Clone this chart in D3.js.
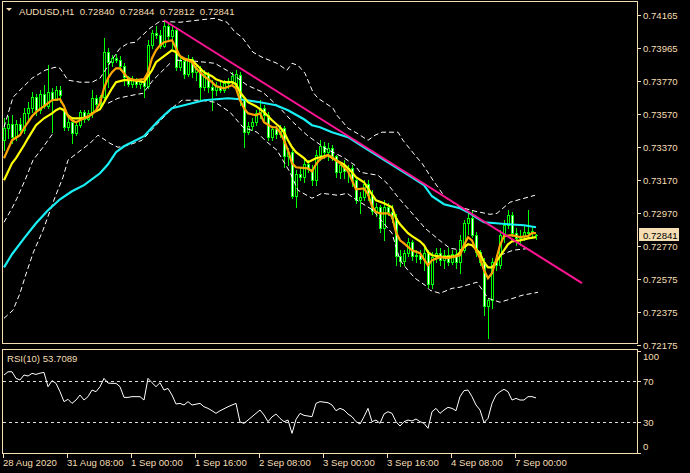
<!DOCTYPE html>
<html><head><meta charset="utf-8">
<script src="https://cdnjs.cloudflare.com/ajax/libs/d3/7.8.5/d3.min.js"></script>
<style>
html,body{margin:0;padding:0;background:#000;}
svg{display:block;}
text{font-family:"Liberation Sans",Arial,sans-serif;font-size:9.6px;white-space:pre;}
</style></head><body>
<svg id="c" width="690" height="473"></svg>
<script>
const symbolLabel = "AUDUSD,H1";
const lastQuote = [0.72840, 0.72844, 0.72812, 0.72841];
const rsiLabel = "RSI(10) 53.7089";

const open = [0.73410,0.73483,0.73507,0.73429,0.73507,0.73471,0.73573,0.73604,0.73670,0.73592,0.73688,0.73616,0.73700,0.73652,0.73712,0.73592,0.73489,0.73519,0.73453,0.73501,0.73580,0.73537,0.73573,0.73664,0.73628,0.73670,0.73942,0.73882,0.73906,0.73894,0.73857,0.73791,0.73749,0.73779,0.73749,0.73761,0.73737,0.73984,0.74057,0.74045,0.73978,0.74099,0.74039,0.74075,0.73851,0.73888,0.73809,0.73900,0.73821,0.73845,0.73731,0.73809,0.73731,0.73712,0.73737,0.73712,0.73755,0.73767,0.73737,0.73803,0.73652,0.73459,0.73495,0.73519,0.73573,0.73604,0.73561,0.73429,0.73477,0.73447,0.73483,0.73314,0.73338,0.73072,0.73205,0.73187,0.73265,0.73235,0.73169,0.73320,0.73374,0.73338,0.73362,0.73314,0.73217,0.73259,0.73223,0.73241,0.73169,0.73048,0.73066,0.73145,0.73078,0.72982,0.73006,0.72879,0.73006,0.72976,0.72939,0.72710,0.72680,0.72728,0.72794,0.72710,0.72716,0.72692,0.72728,0.72541,0.72704,0.72728,0.72686,0.72716,0.72674,0.72722,0.72674,0.72746,0.72909,0.72939,0.72837,0.72734,0.72674,0.72408,0.72444,0.72674,0.72655,0.72837,0.72897,0.72957,0.72849,0.72818,0.72831,0.72855,0.72849,0.72840];
const high = [0.73543,0.73555,0.73561,0.73531,0.73543,0.73604,0.73640,0.73700,0.73688,0.73712,0.73743,0.73863,0.73724,0.73737,0.73737,0.73622,0.73543,0.73549,0.73519,0.73592,0.73592,0.73592,0.73712,0.73682,0.73682,0.74026,0.73966,0.73924,0.73930,0.73918,0.73875,0.73797,0.73797,0.73785,0.73773,0.73773,0.74014,0.74075,0.74099,0.74075,0.74135,0.74123,0.74105,0.74087,0.73906,0.73906,0.73924,0.73912,0.73869,0.73857,0.73833,0.73821,0.73773,0.73761,0.73761,0.73773,0.73785,0.73821,0.73833,0.73821,0.73664,0.73519,0.73543,0.73592,0.73652,0.73622,0.73580,0.73495,0.73495,0.73501,0.73495,0.73362,0.73350,0.73229,0.73241,0.73290,0.73290,0.73259,0.73350,0.73410,0.73398,0.73392,0.73380,0.73320,0.73278,0.73290,0.73259,0.73259,0.73181,0.73096,0.73169,0.73169,0.73108,0.73030,0.73018,0.73048,0.73030,0.73018,0.72963,0.72746,0.72746,0.72818,0.72806,0.72746,0.72746,0.72758,0.72746,0.72734,0.72758,0.72758,0.72746,0.72758,0.72746,0.72746,0.72837,0.72927,0.72976,0.72988,0.72855,0.72746,0.72698,0.72456,0.72698,0.72716,0.72867,0.72927,0.72988,0.72976,0.72879,0.72867,0.72897,0.72988,0.72891,0.72844];
const low = [0.73350,0.73422,0.73392,0.73410,0.73447,0.73453,0.73531,0.73580,0.73561,0.73573,0.73604,0.73604,0.73459,0.73652,0.73640,0.73471,0.73471,0.73392,0.73441,0.73489,0.73519,0.73531,0.73549,0.73604,0.73616,0.73658,0.73731,0.73857,0.73882,0.73833,0.73743,0.73737,0.73731,0.73731,0.73724,0.73670,0.73724,0.73966,0.74026,0.73966,0.73972,0.74014,0.73966,0.73833,0.73833,0.73785,0.73797,0.73791,0.73773,0.73652,0.73712,0.73700,0.73592,0.73682,0.73700,0.73700,0.73724,0.73737,0.73724,0.73622,0.73368,0.73447,0.73471,0.73501,0.73543,0.73531,0.73410,0.73410,0.73422,0.73429,0.73247,0.73259,0.73060,0.73006,0.73169,0.73157,0.73217,0.73139,0.73139,0.73290,0.73302,0.73290,0.73290,0.73187,0.73181,0.73181,0.73157,0.73133,0.73030,0.72969,0.73048,0.73048,0.72963,0.72951,0.72855,0.72806,0.72957,0.72915,0.72655,0.72649,0.72655,0.72710,0.72686,0.72674,0.72667,0.72625,0.72523,0.72516,0.72674,0.72655,0.72637,0.72655,0.72661,0.72637,0.72607,0.72734,0.72843,0.72825,0.72710,0.72655,0.72353,0.72214,0.72396,0.72625,0.72637,0.72794,0.72879,0.72831,0.72776,0.72776,0.72806,0.72825,0.72818,0.72812];
const close = [0.73483,0.73507,0.73429,0.73507,0.73471,0.73573,0.73604,0.73670,0.73592,0.73688,0.73616,0.73700,0.73652,0.73712,0.73682,0.73489,0.73519,0.73453,0.73501,0.73580,0.73537,0.73573,0.73664,0.73628,0.73670,0.73942,0.73882,0.73906,0.73894,0.73857,0.73791,0.73749,0.73779,0.73749,0.73761,0.73737,0.73984,0.74057,0.74045,0.73978,0.74099,0.74039,0.74075,0.73851,0.73888,0.73809,0.73900,0.73821,0.73845,0.73731,0.73809,0.73731,0.73712,0.73737,0.73712,0.73755,0.73767,0.73797,0.73809,0.73652,0.73459,0.73495,0.73519,0.73573,0.73604,0.73561,0.73429,0.73477,0.73447,0.73483,0.73314,0.73338,0.73072,0.73205,0.73187,0.73265,0.73235,0.73169,0.73320,0.73374,0.73338,0.73362,0.73314,0.73217,0.73259,0.73223,0.73241,0.73169,0.73048,0.73066,0.73145,0.73078,0.72982,0.73006,0.72879,0.73006,0.72976,0.72939,0.72710,0.72680,0.72728,0.72794,0.72710,0.72716,0.72692,0.72728,0.72541,0.72704,0.72728,0.72686,0.72716,0.72674,0.72722,0.72674,0.72806,0.72909,0.72939,0.72837,0.72734,0.72674,0.72408,0.72444,0.72674,0.72655,0.72837,0.72897,0.72957,0.72849,0.72818,0.72831,0.72855,0.72849,0.72861,0.72841];

// moving averages: [bar index, price]
const maFast = [[0,0.73302],[2,0.73410],[4,0.73441],[5,0.73483],[7,0.73555],[8,0.73580],[10,0.73616],[12,0.73652],[14,0.73658],[15,0.73616],[16,0.73555],[17,0.73531],[18,0.73519],[20,0.73543],[22,0.73567],[23,0.73592],[24,0.73634],[25,0.73724],[26,0.73785],[27,0.73821],[28,0.73845],[29,0.73845],[30,0.73815],[31,0.73785],[33,0.73773],[35,0.73779],[36,0.73821],[37,0.73906],[38,0.73954],[39,0.73984],[40,0.74002],[42,0.74014],[43,0.73966],[44,0.73918],[45,0.73906],[47,0.73882],[48,0.73845],[50,0.73797],[52,0.73761],[53,0.73737],[55,0.73724],[57,0.73743],[58,0.73724],[59,0.73652],[60,0.73604],[61,0.73573],[63,0.73561],[64,0.73573],[65,0.73519],[67,0.73489],[68,0.73489],[69,0.73459],[70,0.73410],[71,0.73350],[72,0.73271],[73,0.73247],[76,0.73241],[77,0.73223],[78,0.73265],[79,0.73296],[80,0.73308],[81,0.73320],[82,0.73308],[84,0.73271],[86,0.73223],[87,0.73169],[88,0.73114],[90,0.73120],[91,0.73084],[92,0.73012],[93,0.72976],[94,0.72969],[96,0.72969],[97,0.72951],[98,0.72855],[99,0.72806],[100,0.72788],[102,0.72746],[104,0.72728],[106,0.72655],[107,0.72686],[109,0.72704],[111,0.72698],[112,0.72704],[114,0.72716],[115,0.72776],[116,0.72825],[117,0.72806],[118,0.72746],[119,0.72698],[120,0.72625],[121,0.72577],[122,0.72607],[123,0.72686],[124,0.72776],[125,0.72831],[127,0.72837],[129,0.72825],[131,0.72831],[132,0.72849],[133,0.72849]];
const maMid = [[0,0.73169],[2,0.73271],[3,0.73302],[5,0.73380],[6,0.73422],[8,0.73501],[10,0.73543],[12,0.73573],[13,0.73592],[14,0.73604],[15,0.73592],[16,0.73561],[17,0.73543],[19,0.73543],[21,0.73549],[22,0.73573],[24,0.73598],[25,0.73640],[26,0.73682],[27,0.73724],[28,0.73761],[30,0.73773],[32,0.73773],[34,0.73767],[35,0.73761],[36,0.73797],[37,0.73833],[38,0.73882],[40,0.73918],[41,0.73936],[42,0.73954],[43,0.73942],[44,0.73918],[45,0.73900],[47,0.73894],[48,0.73869],[49,0.73845],[50,0.73821],[52,0.73797],[53,0.73779],[55,0.73761],[57,0.73761],[58,0.73749],[59,0.73700],[60,0.73670],[61,0.73640],[63,0.73616],[65,0.73580],[67,0.73531],[69,0.73489],[70,0.73459],[71,0.73410],[72,0.73368],[73,0.73338],[75,0.73302],[76,0.73278],[77,0.73290],[78,0.73302],[79,0.73308],[81,0.73320],[83,0.73290],[85,0.73265],[87,0.73217],[88,0.73187],[90,0.73157],[91,0.73120],[93,0.73048],[95,0.73030],[97,0.73006],[98,0.72939],[99,0.72903],[101,0.72849],[102,0.72831],[104,0.72800],[105,0.72776],[106,0.72734],[107,0.72716],[110,0.72704],[113,0.72710],[114,0.72734],[115,0.72764],[116,0.72782],[117,0.72776],[118,0.72752],[119,0.72728],[120,0.72674],[121,0.72643],[122,0.72643],[123,0.72674],[124,0.72710],[125,0.72746],[126,0.72782],[127,0.72800],[129,0.72806],[131,0.72818],[133,0.72825]];
const maSlow = [[0,0.72643],[2,0.72722],[5,0.72818],[8,0.72909],[11,0.72988],[14,0.73054],[17,0.73102],[20,0.73139],[24,0.73211],[26,0.73265],[28,0.73338],[30,0.73374],[32,0.73398],[35,0.73435],[38,0.73513],[40,0.73561],[42,0.73604],[45,0.73622],[48,0.73640],[50,0.73652],[53,0.73658],[56,0.73664],[59,0.73658],[64,0.73640],[68,0.73622],[71,0.73592],[75,0.73537],[77,0.73501],[79,0.73489],[82,0.73459],[86,0.73429],[90,0.73368],[94,0.73308],[98,0.73247],[102,0.73187],[105,0.73139],[107,0.73072],[110,0.73024],[114,0.73000],[116,0.72976],[118,0.72945],[120,0.72915],[123,0.72909],[126,0.72903],[130,0.72897],[133,0.72885]];

// envelope bands: [bar index, price]; null marks a gap where the line is not visible
const bandUpper = [[0,0.73489],[2.25,0.73670],[4.75,0.73731],[7,0.73785],[10.25,0.73833],[12.75,0.73851],[14,0.73845],[16,0.73773],[19,0.73761],[22,0.73761],[24,0.73785],[27.25,0.73906],[29,0.73966],[31,0.73996],[32.75,0.74002],[36.5,0.74087],[39,0.74129],[44,0.74123],[48.25,0.74135],[52.75,0.74147],[55.75,0.74123],[57.75,0.74063],[59.5,0.74033],[62.25,0.73942],[64.5,0.73912],[68.25,0.73875],[70.75,0.73833],[72,0.73875],[73.5,0.73863],[75.25,0.73815],[77.25,0.73700],[78.5,0.73664],[82.25,0.73604],[83.25,0.73561],[86,0.73483],[88.25,0.73453],[91,0.73410],[92.75,0.73441],[94.5,0.73459],[98.5,0.73459],[99.75,0.73410],[102.75,0.73320],[104.5,0.73271],[107.25,0.73169],[110.25,0.73066],[114,0.73006],[117.75,0.72982],[121.5,0.72963],[123.25,0.72969],[126.5,0.73036],[128.25,0.73048],[132.75,0.73078]];
const bandLower = [[0,0.72335],[2.25,0.72384],[4,0.72486],[5.25,0.72583],[7.25,0.72728],[9.75,0.72867],[12.75,0.73066],[14.75,0.73187],[16,0.73290],[18.25,0.73332],[21.5,0.73392],[23.5,0.73441],[26.5,0.73392],[28.5,0.73368],[31,0.73380],[34.5,0.73410],[38.5,0.73513],[42.25,0.73610],[44.5,0.73652],[49,0.73652],[52.75,0.73640],[56.5,0.73580],[59.75,0.73489],[63.25,0.73459],[65.25,0.73410],[68.25,0.73350],[71.5,0.73217],[73.5,0.73108],[77,0.73060],[79.5,0.73090],[83.5,0.73078],[85.75,0.73090],[88.25,0.73048],[92.25,0.72988],[97,0.72849],[99,0.72686],[101,0.72625],[102.75,0.72577],[105.25,0.72535],[106.5,0.72504],[109,0.72486],[112,0.72516],[114,0.72523],[118.25,0.72553],[121,0.72456],[124,0.72432],[127.25,0.72456],[129.5,0.72474],[133.5,0.72492]];
const bandInnerUpper = [[43.25,0.73894],[47.75,0.73888],[52.75,0.73875],[56.5,0.73821],[60.75,0.73743],[64.75,0.73700],[69,0.73604],[72.25,0.73519],[75.75,0.73441],[80.25,0.73362],[84.75,0.73308],[87.75,0.73259],[89,0.73217],[93.5,0.73199],[95.75,0.73151],[98.5,0.73066],[100.25,0.73018],[104,0.72915],[105.25,0.72879],[109.5,0.72794],[111.5,0.72758],[114.75,0.72746]];
const bandInnerLower = [[0,0.72915],[2,0.73000],[3.25,0.73060],[5.25,0.73169],[7.25,0.73290],[9.75,0.73368],[12.25,0.73453],null,[26,0.73634],[28.5,0.73664],[32,0.73682],[34.75,0.73694],[37.25,0.73773],[41.5,0.73875],null,[124,0.72716],[127.25,0.72746],[131.5,0.72758]];

// trend line anchors: [bar index, price]
const trendLine = [[40,0.74135],[144.5,0.72547]];

const rsi = [76.2,79.4,79.4,72.9,71.3,76.2,75.2,77.8,76.8,78.0,78.8,64.7,70.6,68.0,59.8,50.0,52.3,48.3,51.6,56.5,51.6,54.9,61.4,59.8,64.7,72.9,68.3,68.0,68.0,64.7,54.2,54.2,54.9,54.9,54.9,51.6,72.9,68.6,64.7,68.6,61.4,63.0,56.5,47.7,48.3,46.7,50.0,46.7,47.5,48.3,45.0,43.4,41.1,38.5,41.0,43.0,45.0,46.7,48.3,30.0,28.7,31.9,35.2,38.5,41.8,36.9,30.3,35.0,37.8,33.6,30.3,31.9,18.8,32.5,38.5,36.5,35.9,35.2,48.3,50.0,49.5,49.0,46.7,41.1,43.4,41.8,37.8,35.2,30.3,28.0,35.2,43.4,30.3,31.9,28.7,37.8,40.1,38.5,30.3,26.0,30.3,31.9,31.0,32.9,30.3,28.7,23.8,40.1,43.4,38.5,41.8,44.4,43.4,41.1,54.9,60.8,61.4,54.9,46.7,41.8,29.3,33.6,48.3,56.5,59.8,62.1,59.8,51.6,53.2,51.6,51.6,54.9,54.9,53.7];
const rsiLevels = [70, 30];
const rsiTicks = [100, 70, 30, 0];

const priceTicks = [0.74165,0.73965,0.73770,0.73570,0.73370,0.73170,0.72970,0.72770,0.72575,0.72375,0.72175];
const timeLabels = ["28 Aug 2020","31 Aug 08:00","1 Sep 00:00","1 Sep 16:00","2 Sep 08:00","3 Sep 00:00","3 Sep 16:00","4 Sep 08:00","7 Sep 00:00"];
const timeLabelBars = [0,16,32,48,64,80,96,112,128];

// ---------- drawing ----------
const FG = "#f5deb3";
const svg = d3.select("#c");
svg.append("rect").attr("width",690).attr("height",473).attr("fill","#000");

const x = d3.scaleLinear().domain([0, close.length-1]).range([4, 4 + 4*(close.length-1)]);
const y = d3.scaleLinear().domain([0.72175, 0.74165]).range([344.8, 15.3]);
const yr = d3.scaleLinear().domain([0, 100]).range([452.5, 350.8]);

const defs = svg.append("defs");
defs.append("clipPath").attr("id","clipMain").append("rect").attr("x",3).attr("y",2).attr("width",634).attr("height",341);
defs.append("clipPath").attr("id","clipRsi").append("rect").attr("x",3).attr("y",350).attr("width",634).attr("height",103);

// candles
const bars = close.map((c,i)=>({i, o:open[i], h:high[i], l:low[i], c}));
const bodyTop = d=>Math.round(y(Math.max(d.o,d.c)));
const bodyBot = d=>Math.round(y(Math.min(d.o,d.c)));
const gc = svg.append("g").attr("clip-path","url(#clipMain)").attr("shape-rendering","crispEdges");
gc.selectAll("rect.w").data(bars).join("rect").attr("class","w")
  .attr("x", d=>x(d.i)).attr("width",1)
  .attr("y", d=>Math.round(y(d.h)))
  .attr("height", d=>Math.max(1, Math.round(y(d.l)) - Math.round(y(d.h)) + 1))
  .attr("fill","#00ff00");
gc.selectAll("rect.b").data(bars).join("rect").attr("class","b")
  .attr("x", d=>x(d.i)-1).attr("width",3)
  .attr("y", bodyTop)
  .attr("height", d=>Math.max(1, bodyBot(d) - bodyTop(d) + 1))
  .attr("fill","#00ff00");
gc.selectAll("rect.f").data(bars.filter(d=>bodyBot(d) - bodyTop(d) >= 2)).join("rect").attr("class","f")
  .attr("x", d=>x(d.i)).attr("width",1)
  .attr("y", d=>bodyTop(d)+1)
  .attr("height", d=>bodyBot(d) - bodyTop(d) - 1)
  .attr("fill", d=> d.c >= d.o ? "#000" : "#fff");

// lines
const gl = svg.append("g").attr("clip-path","url(#clipMain)");
const line = d3.line().defined(d=>d!==null).x(d=>x(d[0])).y(d=>y(d[1]));
[bandUpper, bandLower, bandInnerUpper, bandInnerLower].forEach(b=>{
  gl.append("path").attr("d", line(b)).attr("fill","none").attr("stroke","#fff").attr("stroke-width",1).attr("stroke-dasharray","5,3");
});
gl.append("path").attr("d", line(maSlow)).attr("fill","none").attr("stroke","#19f0f5").attr("stroke-width",2.2);
gl.append("path").attr("d", line(maMid)).attr("fill","none").attr("stroke","#ffff00").attr("stroke-width",2.2);
gl.append("path").attr("d", line(maFast)).attr("fill","none").attr("stroke","#ffa500").attr("stroke-width",2.2);
gl.append("path").attr("d", line(trendLine)).attr("fill","none").attr("stroke","#ff1493").attr("stroke-width",2);

// RSI
const gr = svg.append("g").attr("clip-path","url(#clipRsi)");
rsiLevels.forEach(v=>{
  gr.append("line").attr("x1",3).attr("x2",637).attr("y1",Math.round(yr(v))+0.5).attr("y2",Math.round(yr(v))+0.5)
    .attr("stroke","#ddd").attr("stroke-dasharray","3,3").attr("stroke-width",1);
});
gr.append("path").attr("d", d3.line().x((d,i)=>x(i)).y(d=>yr(d))(rsi)).attr("fill","none").attr("stroke","#fff").attr("stroke-width",1);

// frames
const gf = svg.append("g").attr("shape-rendering","crispEdges").attr("fill","none").attr("stroke",FG);
gf.append("rect").attr("x",2.5).attr("y",1.5).attr("width",635).attr("height",342);
gf.append("rect").attr("x",2.5).attr("y",349.5).attr("width",635).attr("height",104);

// price axis
const ga = svg.append("g");
priceTicks.forEach(p=>{
  const yy = Math.round(y(p));
  ga.append("line").attr("x1",637).attr("x2",641).attr("y1",yy+0.5).attr("y2",yy+0.5).attr("stroke",FG).attr("shape-rendering","crispEdges");
  ga.append("text").attr("x",643).attr("y",yy+4).attr("fill",FG).text(p.toFixed(5));
});
// current price box
const cp = lastQuote[3];
const cy = Math.round(y(cp));
ga.append("rect").attr("x",639).attr("y",cy-7).attr("width",40).attr("height",13).attr("fill",FG);
ga.append("text").attr("x",643).attr("y",cy+4).attr("fill","#000").text(cp.toFixed(5));

// rsi axis
rsiTicks.forEach(v=>{
  const yy = Math.round(yr(v));
  ga.append("line").attr("x1",637).attr("x2",641).attr("y1",yy+0.5).attr("y2",yy+0.5).attr("stroke",FG).attr("shape-rendering","crispEdges");
  const ty = v===100 ? yy+9 : v===0 ? yy-3 : yy+4;
  ga.append("text").attr("x",643).attr("y",ty).attr("fill",FG).text(v);
});

// time axis
timeLabels.forEach((t,k)=>{
  const xx = x(timeLabelBars[k]) - 1;
  ga.append("line").attr("x1",xx+0.5).attr("x2",xx+0.5).attr("y1",454).attr("y2",458).attr("stroke",FG).attr("shape-rendering","crispEdges");
  ga.append("text").attr("x",xx).attr("y",466).attr("fill",FG).text(t);
});

// title and rsi label
svg.append("path").attr("d","M6,8L12,8L9,11Z").attr("fill",FG);
svg.append("text").attr("x",19).attr("y",15).attr("fill",FG)
  .text(symbolLabel + "  " + lastQuote.map(v=>v.toFixed(5)).join("  "));
svg.append("text").attr("x",7).attr("y",362).attr("fill",FG).text(rsiLabel);
</script>
</body></html>
